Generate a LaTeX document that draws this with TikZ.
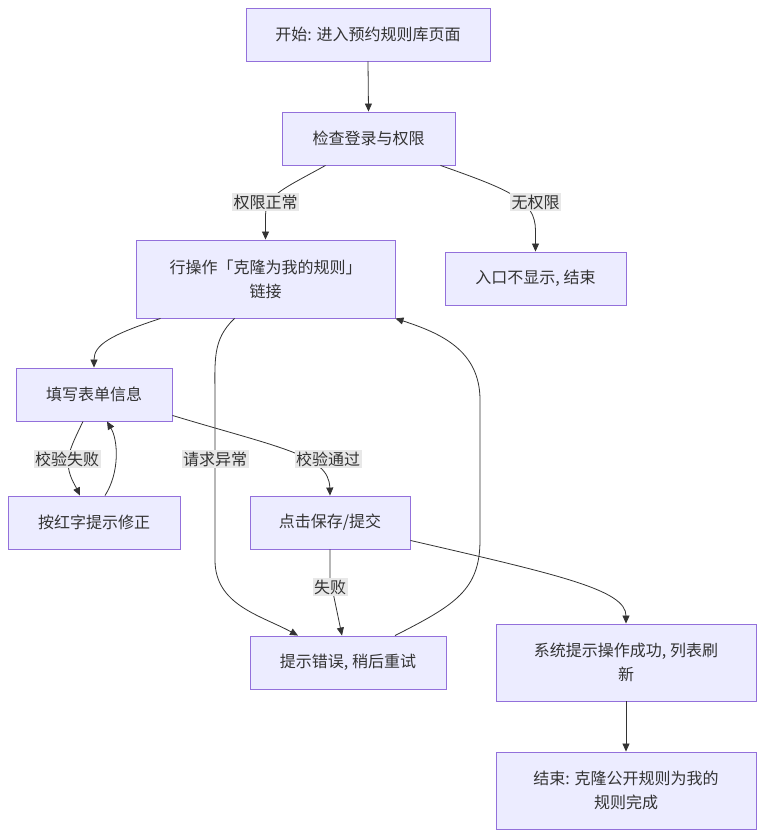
\documentclass[tikz,border=0pt]{standalone}
\usepackage{fontspec}
\setmainfont{Noto Sans CJK SC}
\usetikzlibrary{arrows.meta}
\definecolor{boxfill}{HTML}{ECECFF}
\definecolor{boxline}{HTML}{9370DB}
\definecolor{txt}{HTML}{333333}
\definecolor{lblbg}{HTML}{E8E8E8}
\tikzset{
  box/.style={draw=boxline, fill=boxfill, line width=0.9pt, text=txt, align=center, inner sep=0pt},
  lbl/.style={fill=lblbg, text=txt, inner sep=1.5pt},
  conn/.style={draw=txt, line width=0.8pt, -{Triangle[length=8pt,width=7pt]}},
  every node/.style={font=\fontsize{16}{24}\selectfont}
}
\begin{document}
\begin{tikzpicture}[x=1pt,y=-1pt]
\useasboundingbox[fill=white] (0,0) rectangle (765,838);
\node[box, minimum width=244pt, minimum height=53pt] (start) at (368,34.5) {开始: 进入预约规则库页面};
\node[box, minimum width=173pt, minimum height=53pt] (check) at (368.5,138.5) {检查登录与权限};
\node[box, minimum width=259pt, minimum height=78pt] (op) at (265.5,279) {行操作「克隆为我的规则」\\链接};
\node[box, minimum width=181pt, minimum height=53pt] (noperm) at (535.5,278.5) {入口不显示, 结束};
\node[box, minimum width=156pt, minimum height=53pt] (fill) at (94,394.5) {填写表单信息};
\node[box, minimum width=172pt, minimum height=53pt] (fix) at (94,522.5) {按红字提示修正};
\node[box, minimum width=160pt, minimum height=53pt] (save) at (330,522.5) {点击保存/提交};
\node[box, minimum width=196pt, minimum height=53pt] (err) at (348,662.5) {提示错误, 稍后重试};
\node[box, minimum width=260pt, minimum height=77pt] (succ) at (626,662.5) {系统提示操作成功, 列表刷\\新};
\node[box, minimum width=260pt, minimum height=77pt] (end) at (626,790.5) {结束: 克隆公开规则为我的\\规则完成};

% edges
\draw[conn] (start.south) -- (check.north);
\draw[conn] ([xshift=-43pt]check.south) .. controls (285,188) and (266,195) .. (265.5,215) -- (op.north);
\draw[conn] ([xshift=72pt]check.south) .. controls (510,190) and (535,200) .. (535.5,230) -- (noperm.north);
\draw[conn] ([xshift=-105pt]op.south) .. controls (110,335) and (94,345) .. (fill.north);
\draw[conn] ([xshift=-31pt]op.south) .. controls (212,340) and (215,360) .. (215,400) -- (215,560) .. controls (215,605) and (260,615) .. ([xshift=-50pt]err.north);
\draw[conn] ([xshift=-11pt]fill.south) .. controls (75,438) and (68,452) .. (68,462) .. controls (68,475) and (75,485) .. ([xshift=-14pt]fix.north);
\draw[conn] ([xshift=11pt]fix.north) .. controls (120,472) and (118,440) .. ([xshift=13pt]fill.south);
\draw[conn] ([yshift=6pt]fill.south east) .. controls (280,448) and (329,455) .. (save.north);
\draw[conn] (save.south) -- (330,578) -- ([xshift=-6pt]err.north);
\draw[conn] ([yshift=9pt]save.south east) .. controls (560,575) and (626,590) .. (succ.north);
\draw[conn] ([xshift=47pt]err.north) .. controls (455,605) and (480,590) .. (480,540) -- (480,400) .. controls (480,350) and (440,333) .. (op.south east);
\draw[conn] (succ.south) -- (end.north);

% labels
\node[lbl] (l1) at (265.5,202) {权限正常};
\node[lbl] (l2) at (535.5,202) {无权限};
\node[lbl] (l3) at (67,459) {校验失败};
\node[lbl] (l4) at (215,459) {请求异常};
\node[lbl] (l5) at (328,459) {校验通过};
\node[lbl] (l6) at (330,587) {失败};
\end{tikzpicture}
\end{document}
